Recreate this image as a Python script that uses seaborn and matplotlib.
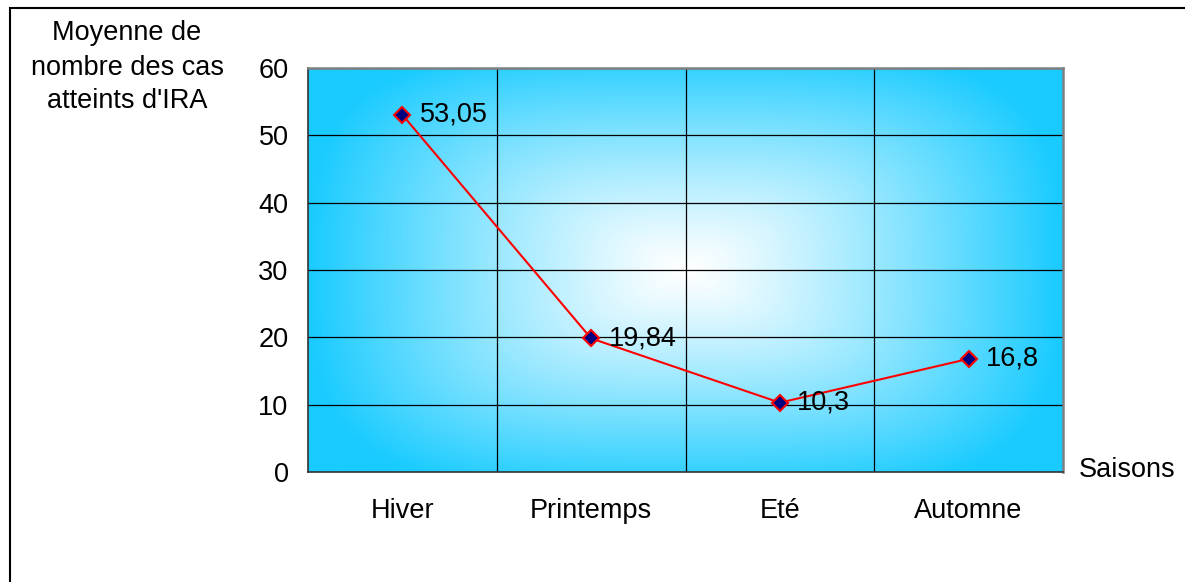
import numpy as np
import pandas as pd
import matplotlib
matplotlib.use("Agg")
import matplotlib.pyplot as plt
from matplotlib.patches import Rectangle
import seaborn as sns

seasons = ["Hiver", "Printemps", "Eté", "Automne"]
mean_cases = [53.05, 19.84, 10.3, 16.8]
value_labels = ["53,05", "19,84", "10,3", "16,8"]
y_ticks = [0, 10, 20, 30, 40, 50, 60]

sns.set_style("white")
plt.rcParams["font.family"] = ["Liberation Sans", "DejaVu Sans"]
plt.rcParams["text.color"] = "black"
plt.rcParams["xtick.color"] = "black"
plt.rcParams["ytick.color"] = "black"
FS = 19.5

W, H = 1185, 582
fig = plt.figure(figsize=(W / 100, H / 100), dpi=100)
ax = fig.add_axes([308 / W, (H - 472) / H, (1063 - 308) / W, (472 - 68) / H])

df = pd.DataFrame({"Saison": seasons, "Moyenne": mean_cases, "pos": np.arange(len(seasons))})

# rectangular "from centre" gradient: white in the middle, cyan at the border
nx, ny = 500, 280
gx = np.linspace(-1, 1, nx)
gy = np.linspace(-1, 1, ny)
X, Y = np.meshgrid(gx, gy)
p = 3.5
t = np.clip((np.abs(X) ** p + np.abs(Y / 1.12) ** p) ** (1 / p), 0, 1) ** 1.2
edge = np.array([25, 203, 255]) / 255
centre = np.array([1.0, 1.0, 1.0])
img = centre[None, None, :] * (1 - t[..., None]) + edge[None, None, :] * t[..., None]
ax.imshow(img, extent=[-0.5, 3.5, 0, 60], aspect="auto", origin="upper", zorder=0,
          interpolation="bilinear")

# grid lines
for yv in y_ticks[1:]:
    ax.axhline(yv, color="black", lw=0.9, zorder=1)
for xv in [0.5, 1.5, 2.5]:
    ax.axvline(xv, color="black", lw=0.9, zorder=1)

sns.lineplot(data=df, x="pos", y="Moyenne", ax=ax, color="red", lw=1.5,
             marker="D", markersize=8.5, markerfacecolor="#000080",
             markeredgecolor="red", markeredgewidth=1.5, zorder=3)

for i, (v, lab) in enumerate(zip(mean_cases, value_labels)):
    ax.annotate(lab, (i, v), xytext=(12.5, 0), textcoords="offset points",
                va="center", ha="left", fontsize=FS, color="black", zorder=4)

ax.set_xlim(-0.5, 3.5)
ax.set_ylim(0, 60)
ax.set_yticks(y_ticks)
ax.set_yticklabels([str(t) for t in y_ticks], fontsize=FS)
ax.set_xticks([-0.5, 0.5, 1.5, 2.5, 3.5])
ax.set_xticklabels([])
ax.set_xticks(range(len(seasons)), minor=True)
ax.set_xticklabels(seasons, minor=True, fontsize=FS)
ax.tick_params(axis="x", which="major", direction="out", length=6, width=1, color="#333333")
ax.tick_params(axis="x", which="minor", length=0, pad=19)
ax.tick_params(axis="y", direction="out", length=6, width=1, color="#333333", pad=8)
ax.set_xlabel("")
ax.set_ylabel("")

for side in ["top", "right"]:
    ax.spines[side].set_color("#808080")
    ax.spines[side].set_linewidth(1.8)
for side in ["left", "bottom"]:
    ax.spines[side].set_color("#333333")
    ax.spines[side].set_linewidth(1.2)
for s in ax.spines.values():
    s.set_zorder(5)

# axis titles
for txt, yp in [("Moyenne de", 33), ("nombre des cas", 68), ("atteints d'IRA", 101)]:
    fig.text(127 / W, 1 - yp / H, txt, ha="center", va="center", fontsize=FS)
fig.text(1079 / W, 1 - 470 / H, "Saisons", ha="left", va="center", fontsize=FS)

# chart frame
fig.patches.append(Rectangle((10 / W, -0.1), 1.2, 1 - 8 / H + 0.1, transform=fig.transFigure,
                             fill=False, edgecolor="black", lw=1.5))

fig.savefig("out.png", dpi=100)
